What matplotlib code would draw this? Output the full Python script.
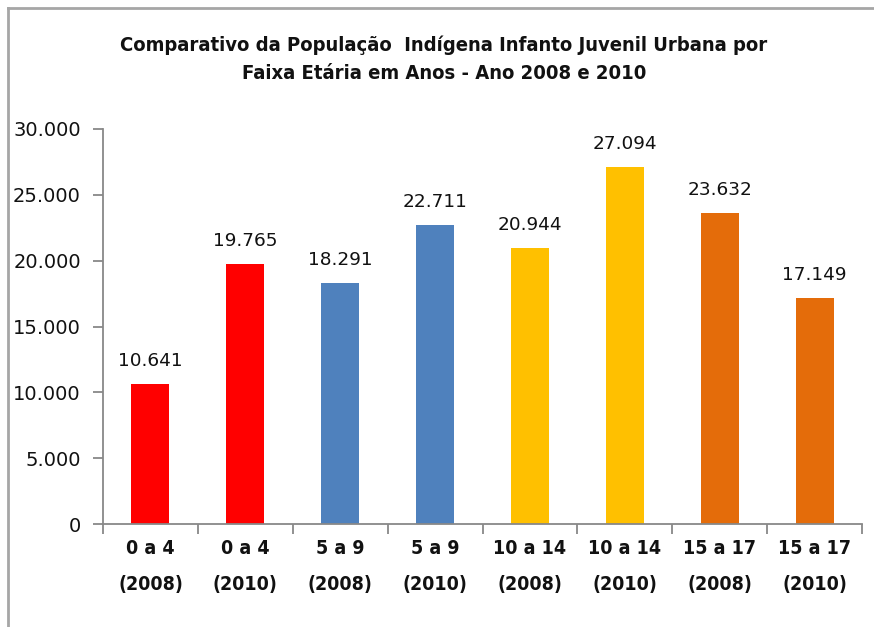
import matplotlib
matplotlib.use("Agg")
import matplotlib.pyplot as plt
from matplotlib.lines import Line2D
from matplotlib.ticker import FuncFormatter

title = "Comparativo da População  Indígena Infanto Juvenil Urbana por\nFaixa Etária em Anos - Ano 2008 e 2010"
categories = ["0 a 4\n(2008)", "0 a 4\n(2010)", "5 a 9\n(2008)", "5 a 9\n(2010)",
              "10 a 14\n(2008)", "10 a 14\n(2010)", "15 a 17\n(2008)", "15 a 17\n(2010)"]
values = [10641, 19765, 18291, 22711, 20944, 27094, 23632, 17149]
colors = ["#FF0000", "#FF0000", "#4F81BD", "#4F81BD",
          "#FFC000", "#FFC000", "#E46C0A", "#E46C0A"]

def fmt(v):
    return f"{int(v):,}".replace(",", ".")

fig = plt.figure(figsize=(8.74, 6.27), dpi=100)
W, H = 874, 627
ax = fig.add_axes([103 / W, 1 - 524 / H, (862 - 103) / W, (524 - 129) / H])

x = list(range(len(values)))
bars = ax.bar(x, values, width=0.4, color=colors)
ax.set_xlim(-0.5, len(values) - 0.5)
ax.set_ylim(0, 30000)
ax.set_yticks([0, 5000, 10000, 15000, 20000, 25000, 30000])
ax.yaxis.set_major_formatter(FuncFormatter(lambda v, p: fmt(v)))

for b, v in zip(bars, values):
    ax.annotate(fmt(v), (b.get_x() + b.get_width() / 2, v), xytext=(0, 10),
                textcoords="offset points", ha="center", va="bottom",
                fontsize=13.3, family="DejaVu Sans", color="#111111")

axis_col = "#888888"
for s in ["top", "right"]:
    ax.spines[s].set_visible(False)
for s in ["left", "bottom"]:
    ax.spines[s].set_color(axis_col)
    ax.spines[s].set_linewidth(1.3)

# category boundary ticks on x axis
ax.set_xticks([i - 0.5 for i in range(len(values) + 1)], minor=False)
ax.set_xticklabels([])
ax.tick_params(axis="x", which="major", length=7, color=axis_col, width=1.3)
ax.set_xticks(x, minor=True)
ax.set_xticklabels(categories, minor=True, fontsize=14, fontweight="bold",
                   family="DejaVu Sans", fontstretch="condensed", linespacing=2.12,
                   color="#111111")
ax.tick_params(axis="x", which="minor", length=0, pad=11)
ax.tick_params(axis="y", length=7, color=axis_col, width=1.3, labelsize=14,
               pad=9, labelcolor="#111111")
for lab in ax.get_yticklabels():
    lab.set_family("DejaVu Sans")

fig.text(444 / W, 1 - 59 / H, title, ha="center", va="center",
         fontsize=14.5, fontweight="bold", family="DejaVu Sans", fontstretch="condensed",
         linespacing=1.6, color="#111111")

# chart area border (top and left visible)
bc = "#A6A6A6"
fig.add_artist(Line2D([8 / W, 8 / W], [0, 1 - 8 / H], transform=fig.transFigure, color=bc, lw=2))
fig.add_artist(Line2D([8 / W, 1], [1 - 8 / H, 1 - 8 / H], transform=fig.transFigure, color=bc, lw=2))

fig.savefig("out.png", dpi=100)
